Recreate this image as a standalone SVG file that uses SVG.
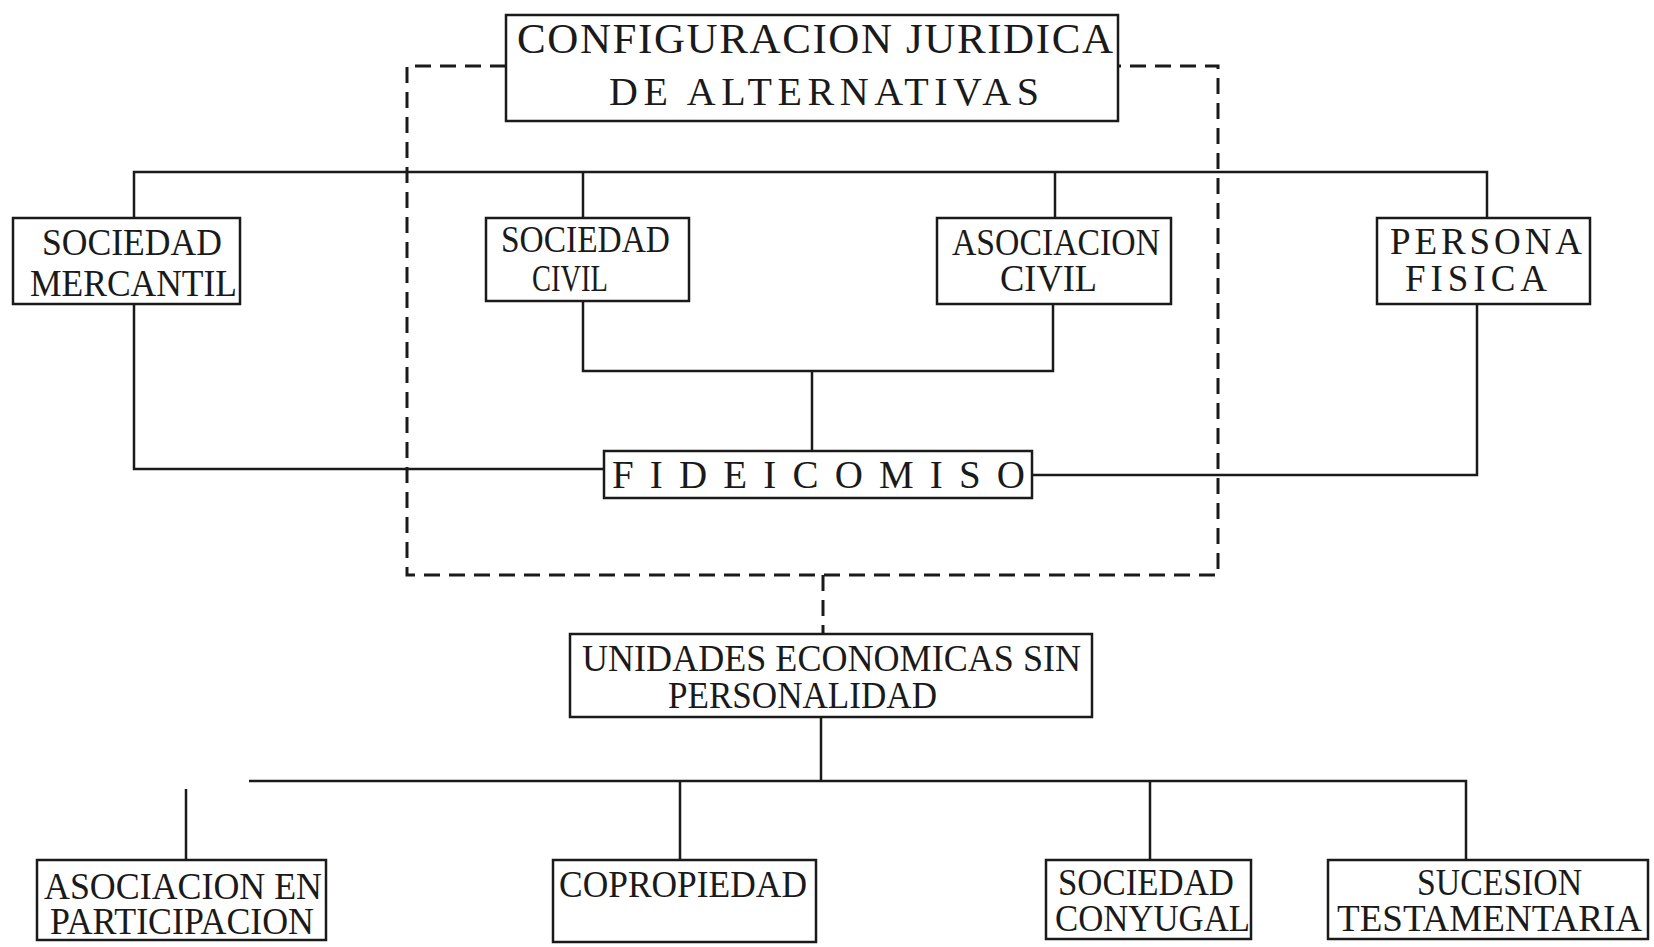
<svg xmlns="http://www.w3.org/2000/svg" width="1654" height="947" viewBox="0 0 1654 947">
<style>
.box{fill:none;stroke:#1a1a1a;stroke-width:2.5}
.ln{fill:none;stroke:#1a1a1a;stroke-width:2.5}
.dash{fill:none;stroke:#1a1a1a;stroke-width:3;stroke-dasharray:16 9}
text{font-family:"Liberation Serif","DejaVu Serif",serif;font-size:37px;fill:#1a1a1a}
.t1{font-size:43px}
.t2{font-size:40px}
.f{font-size:39px}
</style>
<rect width="1654" height="947" fill="#fff"/>
<g id="connectors">
<path class="dash" d="M506 66 H407 V575 H1218 V66 H1118"/>
<path class="ln" d="M134 218 V172 H1487 V218 M583 172 V218 M1055 172 V218"/>
<path class="ln" d="M134 304 V469 H604"/>
<path class="ln" d="M583 301 V371 H1053 V304 M812 371 V451"/>
<path class="ln" d="M1032 475 H1477 V304"/>
<path class="dash" d="M823 575 V634"/>
<path class="ln" d="M821 717 V781 M249 781 H1466 V860 M680 781 V860 M1150 781 V860 M186 789 V860"/>
</g>
<g id="title">
<rect class="box" x="506" y="15" width="612" height="106"/>
<text class="t1" x="517" y="53" textLength="596" lengthAdjust="spacing">CONFIGURACION JURIDICA</text>
<text class="t2" x="609" y="105" textLength="430" lengthAdjust="spacing">DE ALTERNATIVAS</text>
</g>
<g id="sociedad-mercantil">
<rect class="box" x="13" y="218" width="227" height="86"/>
<text x="42" y="255" textLength="180" lengthAdjust="spacingAndGlyphs">SOCIEDAD</text>
<text x="30" y="296" textLength="207" lengthAdjust="spacingAndGlyphs">MERCANTIL</text>
</g>
<g id="sociedad-civil">
<rect class="box" x="486" y="218" width="203" height="83"/>
<text x="501" y="252" textLength="169" lengthAdjust="spacingAndGlyphs">SOCIEDAD</text>
<text x="532" y="291" textLength="76" lengthAdjust="spacingAndGlyphs">CIVIL</text>
</g>
<g id="asociacion-civil">
<rect class="box" x="937" y="218" width="234" height="86"/>
<text x="952" y="255" textLength="208" lengthAdjust="spacingAndGlyphs">ASOCIACION</text>
<text x="1000" y="291" textLength="97" lengthAdjust="spacingAndGlyphs">CIVIL</text>
</g>
<g id="persona-fisica">
<rect class="box" x="1377" y="218" width="213" height="86"/>
<text x="1390" y="254" textLength="192" lengthAdjust="spacing">PERSONA</text>
<text x="1405" y="291" textLength="142" lengthAdjust="spacing">FISICA</text>
</g>
<g id="fideicomiso">
<rect class="box" x="604" y="451" width="428" height="47"/>
<text class="f" x="612" y="488" textLength="413" lengthAdjust="spacing">FIDEICOMISO</text>
</g>
<g id="unidades">
<rect class="box" x="570" y="634" width="522" height="83"/>
<text x="582" y="671" textLength="499" lengthAdjust="spacingAndGlyphs">UNIDADES ECONOMICAS SIN</text>
<text x="668" y="708" textLength="269" lengthAdjust="spacingAndGlyphs">PERSONALIDAD</text>
</g>
<g id="asociacion-participacion">
<rect class="box" x="37" y="860" width="289" height="80"/>
<text x="44" y="899" textLength="278" lengthAdjust="spacingAndGlyphs">ASOCIACION EN</text>
<text x="50" y="934" textLength="264" lengthAdjust="spacingAndGlyphs">PARTICIPACION</text>
</g>
<g id="copropiedad">
<rect class="box" x="553" y="860" width="263" height="82"/>
<text x="559" y="897" textLength="248" lengthAdjust="spacingAndGlyphs">COPROPIEDAD</text>
</g>
<g id="sociedad-conyugal">
<rect class="box" x="1046" y="860" width="205" height="79"/>
<text x="1058" y="895" textLength="176" lengthAdjust="spacingAndGlyphs">SOCIEDAD</text>
<text x="1055" y="931" textLength="195" lengthAdjust="spacingAndGlyphs">CONYUGAL</text>
</g>
<g id="sucesion-testamentaria">
<rect class="box" x="1328" y="860" width="320" height="79"/>
<text x="1417" y="895" textLength="165" lengthAdjust="spacingAndGlyphs">SUCESION</text>
<text x="1337" y="931" textLength="305" lengthAdjust="spacingAndGlyphs">TESTAMENTARIA</text>
</g>
</svg>
